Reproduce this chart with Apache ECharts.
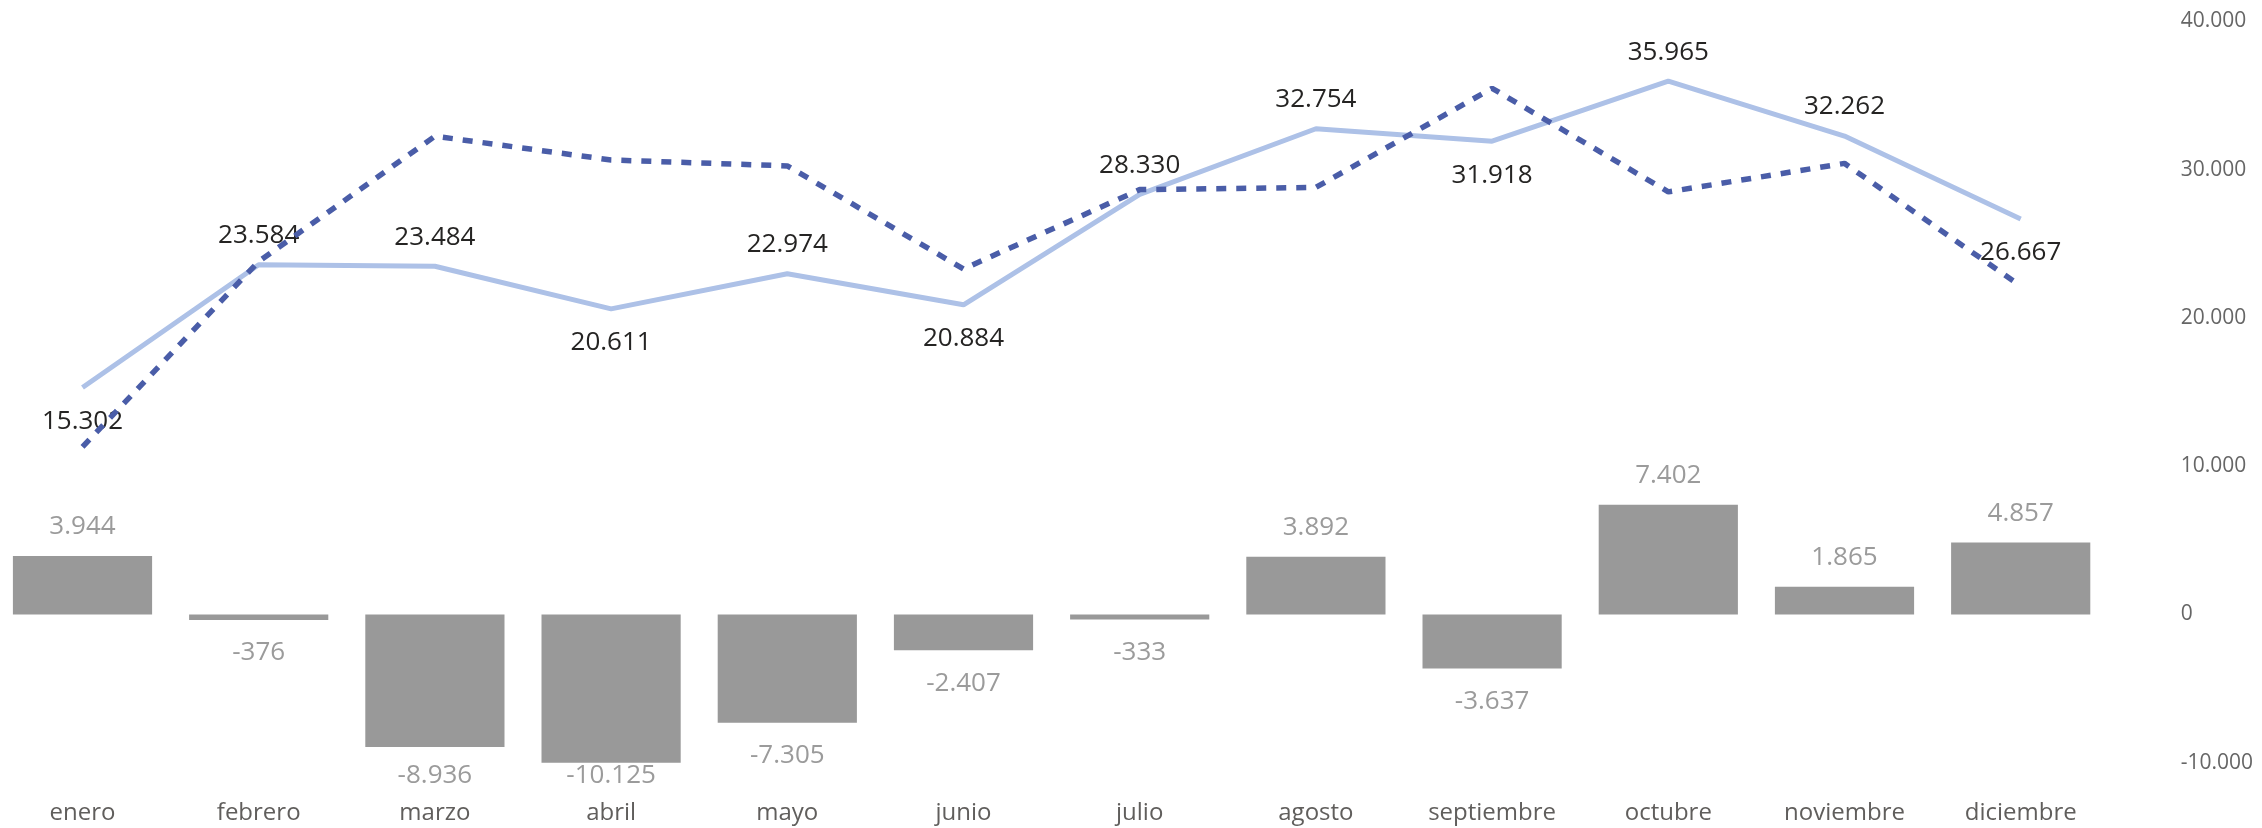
<!DOCTYPE html>
<html>
<head>
<meta charset="utf-8">
<title>chart</title>
<script src="https://cdn.jsdelivr.net/npm/echarts@6/dist/echarts.min.js"></script>
<style>
  html, body { margin: 0; padding: 0; background: #fff; }
  #chart { width: 2262px; height: 828px; }
</style>
</head>
<body>
<div id="chart"></div>
<script>
const months = ['enero', 'febrero', 'marzo', 'abril', 'mayo', 'junio', 'julio', 'agosto', 'septiembre', 'octubre', 'noviembre', 'diciembre']

// solid line (labelled), dashed line (no labels), bars = difference
const actual = [15302, 23584, 23484, 20611, 22974, 20884, 28330, 32754, 31918, 35965, 32262, 26667]
const previous = [11300, 23800, 32250, 30650, 30250, 23300, 28650, 28800, 35480, 28500, 30420, 22150]
const diff = [3944, -376, -8936, -10125, -7305, -2407, -333, 3892, -3637, 7402, 1865, 4857]

const yTicks = [-10000, 0, 10000, 20000, 30000, 40000]

// where the solid line labels sit
const actualLabelSide = ['bottom', 'top', 'top', 'bottom', 'top', 'bottom', 'top', 'top', 'bottom', 'top', 'top', 'bottom']

function fmt (v) {
  const s = String(Math.abs(Math.round(v))).replace(/\B(?=(\d{3})+(?!\d))/g, '.')
  return v < 0 ? '-' + s : s
}

const font = '"Open Sans", "Noto Sans", sans-serif'
const chart = echarts.init(document.getElementById('chart'))

chart.setOption({
  animation: false,
  grid: {
    top: 21.3,
    bottom: 65.2,
    left: -5.6,
    right: 153.2,
    containLabel: false,
    outerBoundsMode: 'none'
  },
  xAxis: {
    type: 'category',
    data: months,
    boundaryGap: true,
    axisLine: { show: false, onZero: false },
    axisTick: { show: false },
    splitLine: { show: false },
    axisLabel: {
      margin: 38,
      fontFamily: font,
      fontSize: 24,
      color: '#605e5c'
    }
  },
  yAxis: {
    type: 'value',
    position: 'right',
    min: yTicks[0],
    max: yTicks[yTicks.length - 1],
    interval: 10000,
    splitLine: { show: false },
    axisLine: { show: false },
    axisTick: { show: false },
    axisLabel: {
      margin: 72,
      align: 'left',
      fontFamily: font,
      fontSize: 21,
      color: '#666666',
      formatter: fmt
    }
  },
  series: [
    {
      name: 'diferencia',
      type: 'bar',
      barWidth: '79%',
      itemStyle: { color: '#999999' },
      data: diff.map(v => ({
        value: v,
        label: v < 0 ? { position: 'bottom', distance: 20 } : { position: 'top', distance: 16 }
      })),
      label: {
        show: true,
        fontFamily: font,
        fontSize: 26,
        color: '#9b9b9b',
        formatter: p => fmt(p.value)
      },
      // keep labels of deep bars inside the plot, like the original
      labelLayout: function (p) {
        const maxBottom = 789
        const r = p.labelRect
        if (r.y + r.height > maxBottom) {
          return {
            x: r.x + r.width / 2,
            y: maxBottom - r.height,
            align: 'center',
            verticalAlign: 'top'
          }
        }
      }
    },
    {
      name: 'actual',
      type: 'line',
      symbol: 'circle',
      symbolSize: 0,
      lineStyle: { color: '#adc1e7', width: 5 },
      itemStyle: { color: '#adc1e7' },
      data: actual.map((v, i) => ({
        value: v,
        label: {
          position: actualLabelSide[i],
          distance: actualLabelSide[i] === 'bottom' ? 21 : 16
        }
      })),
      label: {
        show: true,
        fontFamily: font,
        fontSize: 26,
        color: '#252423',
        formatter: p => fmt(p.value)
      },
      z: 3
    },
    {
      name: 'anterior',
      type: 'line',
      symbol: 'none',
      lineStyle: { color: '#4a5da8', width: 5.5, type: [10, 10] },
      itemStyle: { color: '#4a5da8' },
      data: previous,
      z: 4
    }
  ]
})
</script>
</body>
</html>
